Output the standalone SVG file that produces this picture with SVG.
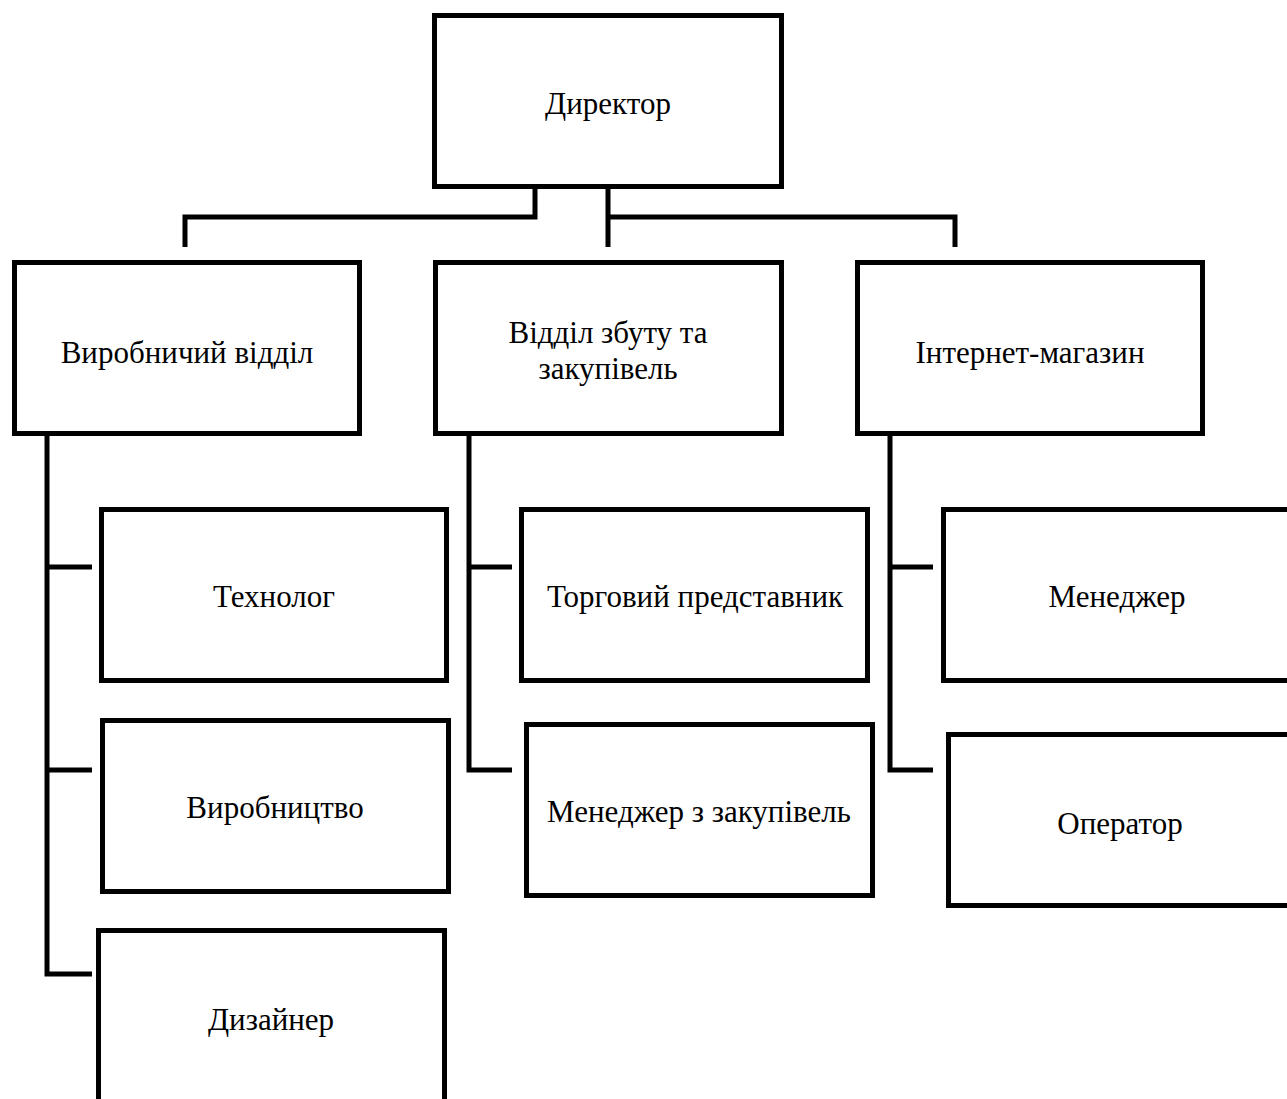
<svg xmlns="http://www.w3.org/2000/svg" width="1287" height="1099" viewBox="0 0 1287 1099">
<style>
.box{fill:#fff;stroke:#000;stroke-width:5}
.lbl{font-family:"Liberation Serif","Times New Roman",serif;font-size:31px;fill:#000;text-anchor:middle}
.con{fill:none;stroke:#000;stroke-width:5}
</style>
<rect width="1287" height="1099" fill="#fff"/>
<g id="connectors">
<path class="con" d="M535,188 V217 H185 V247"/>
<path class="con" d="M608,188 V247"/>
<path class="con" d="M608,217 H955 V247"/>
<path class="con" d="M47,435 V974 H92"/>
<path class="con" d="M47,567 H92"/>
<path class="con" d="M47,770 H92"/>
<path class="con" d="M469,435 V770 H512"/>
<path class="con" d="M469,567 H512"/>
<path class="con" d="M890,435 V770 H933"/>
<path class="con" d="M890,567 H933"/>
</g>
<g id="director"><rect class="box" x="434.5" y="15.5" width="347" height="171"/><text class="lbl" x="608" y="114">Директор</text></g>
<g id="vyrobnychyi"><rect class="box" x="14.5" y="262.5" width="345" height="171"/><text class="lbl" x="187" y="363">Виробничий відділ</text></g>
<g id="zbut"><rect class="box" x="435.5" y="262.5" width="346" height="171"/><text class="lbl" x="608" y="343">Відділ збуту та</text><text class="lbl" x="608" y="379">закупівель</text></g>
<g id="internet"><rect class="box" x="857.5" y="262.5" width="345" height="171"/><text class="lbl" x="1030" y="363">Інтернет-магазин</text></g>
<g id="tekhnolog"><rect class="box" x="101.5" y="509.5" width="345" height="171"/><text class="lbl" x="274" y="607">Технолог</text></g>
<g id="vyrobnytstvo"><rect class="box" x="102.5" y="720.5" width="346" height="171"/><text class="lbl" x="275" y="818">Виробництво</text></g>
<g id="dyzainer"><rect class="box" x="98.5" y="930.5" width="346" height="171"/><text class="lbl" x="271" y="1030">Дизайнер</text></g>
<g id="torgovyi"><rect class="box" x="521.5" y="509.5" width="346" height="171"/><text class="lbl" x="695" y="607">Торговий представник</text></g>
<g id="zakupivli"><rect class="box" x="526.5" y="724.5" width="346" height="171"/><text class="lbl" x="699" y="822">Менеджер з закупівель</text></g>
<g id="menedzher"><rect class="box" x="943.5" y="509.5" width="346" height="171"/><text class="lbl" x="1117" y="607">Менеджер</text></g>
<g id="operator"><rect class="box" x="948.5" y="734.5" width="346" height="171"/><text class="lbl" x="1120" y="834">Оператор</text></g>
</svg>
